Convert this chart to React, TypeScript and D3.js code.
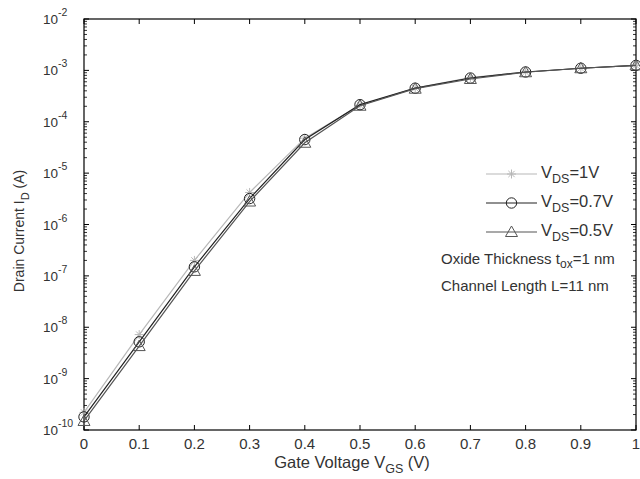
import React from "react";
import * as d3 from "d3";

const vgs = [0, 0.1, 0.2, 0.3, 0.4, 0.5, 0.6, 0.7, 0.8, 0.9, 1.0];
const id1V = [2.2e-10, 7.2e-9, 2.0e-7, 4.2e-6, 4.8e-5, 2.1e-4, 4.5e-4, 7.2e-4, 9.3e-4, 1.1e-3, 1.25e-3];
const id07V = [1.8e-10, 5.2e-9, 1.5e-7, 3.2e-6, 4.5e-5, 2.15e-4, 4.5e-4, 7.1e-4, 9.3e-4, 1.1e-3, 1.25e-3];
const id05V = [1.5e-10, 4.3e-9, 1.25e-7, 2.8e-6, 3.9e-5, 2.05e-4, 4.4e-4, 6.8e-4, 9.2e-4, 1.1e-3, 1.25e-3];
const xTicks = [0, 0.1, 0.2, 0.3, 0.4, 0.5, 0.6, 0.7, 0.8, 0.9, 1];
const yExps = [-10, -9, -8, -7, -6, -5, -4, -3, -2];
const legendLabels = ["=1V", "=0.7V", "=0.5V"];

const W = 640, H = 479;
const M = { left: 84, right: 636, top: 19, bottom: 430 };
const FONT = "Arial, 'Liberation Sans', sans-serif";

export default function App() {
  const x = d3.scaleLinear().domain([0, 1]).range([M.left, M.right]);
  const y = d3.scaleLog().domain([1e-10, 1e-2]).range([M.bottom, M.top]);
  const line = d3.line<number>().x((_, i) => x(vgs[i])).y((d) => y(d));

  const minor: number[] = [];
  for (let e = -10; e < -2; e++) for (let k = 2; k <= 9; k++) minor.push(k * Math.pow(10, e));

  const series = [
    { data: id1V, color: "#b8b8b8", marker: "star" },
    { data: id07V, color: "#222", marker: "circle" },
    { data: id05V, color: "#555", marker: "tri" },
  ];

  const marker = (type: string, cx: number, cy: number, color: string, key: string) => {
    if (type === "circle")
      return <circle key={key} cx={cx} cy={cy} r={5.2} fill="none" stroke={color} strokeWidth={1} />;
    if (type === "tri") {
      const s = 6;
      return (
        <path key={key} d={`M${cx},${cy - s}L${cx + s},${cy + s * 0.75}L${cx - s},${cy + s * 0.75}Z`}
          fill="none" stroke={color} strokeWidth={1} />
      );
    }
    const s = 4.5;
    return (
      <path key={key}
        d={`M${cx - s},${cy}L${cx + s},${cy}M${cx},${cy - s}L${cx},${cy + s}M${cx - s * 0.7},${cy - s * 0.7}L${cx + s * 0.7},${cy + s * 0.7}M${cx - s * 0.7},${cy + s * 0.7}L${cx + s * 0.7},${cy - s * 0.7}`}
        stroke={color} strokeWidth={1} />
    );
  };

  return (
    <svg width={W} height={H} style={{ position: "absolute", left: 0, top: 0, background: "#fff" }} fontFamily={FONT}>
      <rect x={0} y={0} width={W} height={H} fill="#fff" />
      <rect x={M.left} y={M.top} width={M.right - M.left} height={M.bottom - M.top} fill="none" stroke="#000" strokeWidth={1.2} />
      {xTicks.map((t) => (
        <g key={"xt" + t}>
          <line x1={x(t)} x2={x(t)} y1={M.bottom} y2={M.bottom - 5} stroke="#000" />
          <line x1={x(t)} x2={x(t)} y1={M.top} y2={M.top + 5} stroke="#000" />
          <text x={x(t)} y={449} textAnchor="middle" fontSize={15} fill="#333">{t}</text>
        </g>
      ))}
      {yExps.map((e) => {
        const yy = y(Math.pow(10, e));
        return (
          <g key={"yt" + e}>
            <line x1={M.left} x2={M.left + 5} y1={yy} y2={yy} stroke="#000" />
            <line x1={M.right} x2={M.right - 5} y1={yy} y2={yy} stroke="#000" />
            <text x={58} y={yy + 5} textAnchor="end" fontSize={13.5} fill="#333">10</text>
            <text x={58} y={yy - 3} textAnchor="start" fontSize={10.5} fill="#333">{e}</text>
          </g>
        );
      })}
      {minor.map((v, i) => (
        <g key={"ym" + i}>
          <line x1={M.left} x2={M.left + 3} y1={y(v)} y2={y(v)} stroke="#000" strokeWidth={0.8} />
          <line x1={M.right} x2={M.right - 3} y1={y(v)} y2={y(v)} stroke="#000" strokeWidth={0.8} />
        </g>
      ))}
      {series.map((s, si) => (
        <g key={"s" + si}>
          <path d={line(s.data) || ""} fill="none" stroke={s.color} strokeWidth={1.2} />
          {s.data.map((d, i) => marker(s.marker, x(vgs[i]), y(d), s.color, `m${si}-${i}`))}
        </g>
      ))}
      {series.map((s, i) => {
        const ly = 174 + i * 29;
        return (
          <g key={"lg" + i}>
            <line x1={486} x2={537} y1={ly} y2={ly} stroke={s.color} strokeWidth={1.2} />
            {marker(s.marker, 511.5, ly, s.color, "lm" + i)}
            <text x={541} y={ly + 4} fontSize={16.5} fill="#333">
              V<tspan fontSize={12.5} dy={5}>DS</tspan><tspan dy={-5}>{legendLabels[i]}</tspan>
            </text>
          </g>
        );
      })}
      <text x={441} y={264} fontSize={15} fill="#333">
        Oxide Thickness t<tspan fontSize={12} dy={4}>ox</tspan><tspan dy={-4}>=1 nm</tspan>
      </text>
      <text x={441} y={291} fontSize={15} fill="#333">Channel Length L=11 nm</text>
      <text x={352} y={468} textAnchor="middle" fontSize={16.5} fill="#333">
        Gate Voltage V<tspan fontSize={12.5} dy={5}>GS</tspan><tspan dy={-5}> (V)</tspan>
      </text>
      <text transform="translate(24,231) rotate(-90)" textAnchor="middle" fontSize={14} fill="#333">
        Drain Current I<tspan fontSize={11} dy={5}>D</tspan><tspan dy={-5}> (A)</tspan>
      </text>
    </svg>
  );
}
